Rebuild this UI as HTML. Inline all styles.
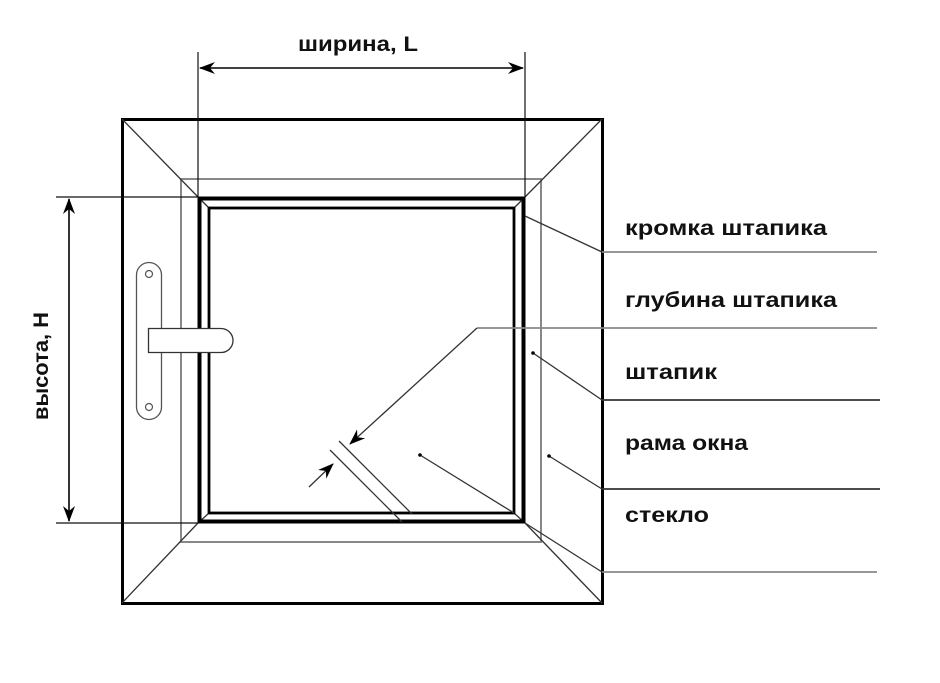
<!DOCTYPE html>
<html><head><meta charset="utf-8"><style>
html,body{margin:0;padding:0;background:#fff;}
svg{display:block;}
text{font-family:"Liberation Sans",sans-serif;font-weight:bold;fill:#111;}
</style></head><body>
<svg width="940" height="683" viewBox="0 0 940 683" xmlns="http://www.w3.org/2000/svg">
<defs>
<marker id="ah" viewBox="0 0 16 12" refX="15" refY="6" markerWidth="16" markerHeight="12" markerUnits="userSpaceOnUse" orient="auto-start-reverse">
<path d="M0,0 L16,6 L0,12 L5,6 z" fill="#000"/>
</marker>
</defs>
<rect x="122.5" y="119.5" width="480" height="484" fill="none" stroke="#000" stroke-width="3"/>
<rect x="181" y="179" width="360" height="363" fill="none" stroke="#888" stroke-width="2"/>
<g stroke="#333" stroke-width="1.3">
<line x1="122" y1="119" x2="198" y2="197"/>
<line x1="602" y1="119" x2="525" y2="197"/>
<line x1="122" y1="603" x2="198" y2="523"/>
<line x1="602" y1="603" x2="525" y2="523"/>
<line x1="198" y1="197" x2="209" y2="208"/>
<line x1="525" y1="197" x2="514" y2="208"/>
<line x1="198" y1="523" x2="209" y2="513"/>
<line x1="525" y1="523" x2="514" y2="513"/>
</g>
<rect x="199.5" y="198.5" width="324" height="323" fill="none" stroke="#000" stroke-width="4"/>
<rect x="209" y="208" width="305" height="305" fill="none" stroke="#000" stroke-width="2.8"/>
<g stroke="#111" stroke-width="1.2">
<line x1="198" y1="52" x2="198" y2="197"/>
<line x1="525" y1="52" x2="525" y2="197"/>
<line x1="56" y1="197" x2="198" y2="197"/>
<line x1="56" y1="523" x2="198" y2="523"/>
</g>
<line x1="200" y1="68" x2="523" y2="68" stroke="#000" stroke-width="1.6" marker-start="url(#ah)" marker-end="url(#ah)"/>
<line x1="69" y1="199" x2="69" y2="521" stroke="#000" stroke-width="1.6" marker-start="url(#ah)" marker-end="url(#ah)"/>
<text x="358" y="51" font-size="21" text-anchor="middle" textLength="120" lengthAdjust="spacingAndGlyphs">ширина, L</text>
<text transform="translate(48,366) rotate(-90)" font-size="21" text-anchor="middle" textLength="108" lengthAdjust="spacingAndGlyphs">высота, Н</text>
<rect x="136.5" y="262.5" width="25" height="157" rx="12.5" fill="#fff" stroke="#555" stroke-width="1.3"/>
<circle cx="149" cy="274" r="3.5" fill="none" stroke="#555" stroke-width="1.2"/>
<circle cx="149" cy="407" r="3.5" fill="none" stroke="#555" stroke-width="1.2"/>
<path d="M148.5,328.5 H221 A12,12 0 0 1 221,352.5 H148.5 Z" fill="#fff" stroke="#333" stroke-width="1.3"/>
<g stroke="#888" stroke-width="1.8">
<line x1="602" y1="252" x2="877" y2="252"/>
<line x1="477" y1="328" x2="877" y2="328"/>
<line x1="602" y1="572" x2="877" y2="572"/>
</g>
<g stroke="#333" stroke-width="1.8">
<line x1="602" y1="400" x2="880" y2="400"/>
<line x1="602" y1="489" x2="880" y2="489"/>
</g>
<g stroke="#333" stroke-width="1.3" fill="none">
<line x1="525" y1="216" x2="602" y2="252"/>
<line x1="533" y1="353" x2="602" y2="400"/>
<line x1="549" y1="456" x2="602" y2="489"/>
<line x1="420" y1="455" x2="514" y2="513"/>
<line x1="525" y1="523" x2="602" y2="572"/>
<line x1="339" y1="441" x2="412" y2="514"/>
<line x1="330" y1="450" x2="402" y2="522"/>
</g>
<line x1="477" y1="328" x2="350" y2="444" stroke="#333" stroke-width="1.3" marker-end="url(#ah)"/>
<line x1="309" y1="487" x2="333" y2="464" stroke="#333" stroke-width="1.3" marker-end="url(#ah)"/>
<circle cx="420" cy="455" r="1.8" fill="#000"/>
<circle cx="533" cy="353" r="1.8" fill="#000"/>
<circle cx="549" cy="456" r="1.8" fill="#000"/>
<g font-size="21">
<text x="625" y="235" textLength="202" lengthAdjust="spacingAndGlyphs">кромка штапика</text>
<text x="625" y="307" textLength="212" lengthAdjust="spacingAndGlyphs">глубина штапика</text>
<text x="625" y="379" textLength="92" lengthAdjust="spacingAndGlyphs">штапик</text>
<text x="625" y="450" textLength="123" lengthAdjust="spacingAndGlyphs">рама окна</text>
<text x="625" y="522" textLength="84" lengthAdjust="spacingAndGlyphs">стекло</text>
</g>
</svg>
</body></html>
